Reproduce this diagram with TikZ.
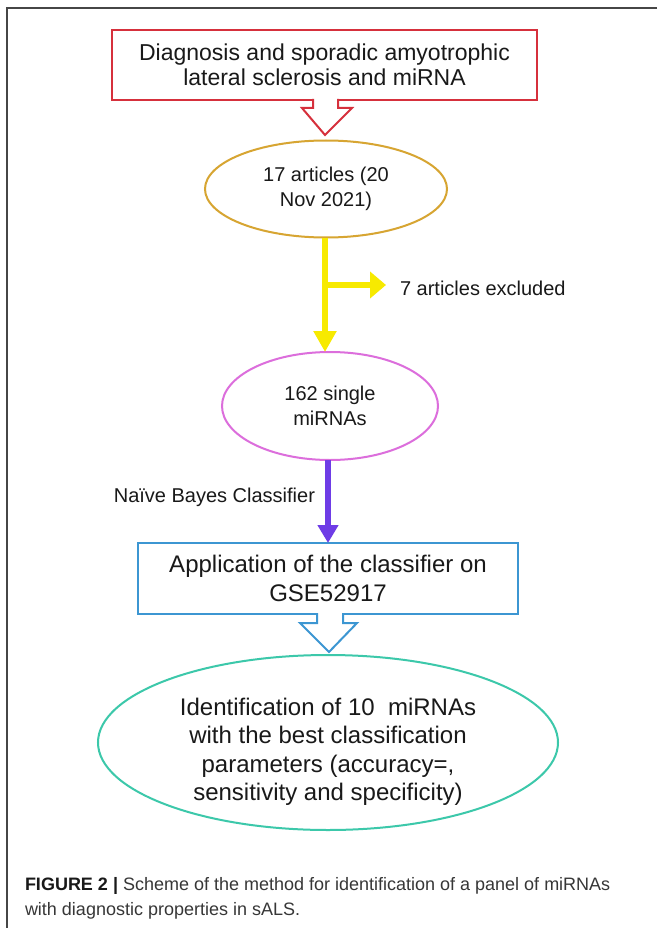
\documentclass[tikz,border=0pt]{standalone}
\usepackage{fontspec}
\setmainfont{Liberation Sans}
\usetikzlibrary{shapes.geometric,arrows.meta,calc}
\definecolor{framec}{RGB}{70,70,70}
\definecolor{redc}{RGB}{214,48,60}
\definecolor{goldc}{RGB}{215,165,50}
\definecolor{yelc}{RGB}{247,234,0}
\definecolor{orchc}{RGB}{220,110,220}
\definecolor{purpc}{RGB}{110,60,230}
\definecolor{bluec}{RGB}{60,150,210}
\definecolor{turqc}{RGB}{60,200,170}
\definecolor{txtc}{RGB}{25,25,25}
\definecolor{capc}{RGB}{55,55,55}
\begin{document}
\begin{tikzpicture}[x=1pt,y=-1pt,
  boxnode/.style={rectangle,draw,line width=2pt,fill=white,inner sep=0pt,outer sep=0pt,align=center,text=txtc},
  ellnode/.style={ellipse,draw,line width=2pt,fill=white,inner sep=0pt,outer sep=0pt,align=center,text=txtc},
  plain/.style={inner sep=0pt,outer sep=0pt,text=txtc},
  fnt20/.style={font=\fontsize{20}{25}\selectfont},
  fnt24/.style={font=\fontsize{24}{28.5}\selectfont},
  thickarrow/.style={line width=6pt}
]
\useasboundingbox (0,0) rectangle (657,928);
\fill[white] (0,0) rectangle (657,928);
\draw[framec,line width=1.4pt] (657,8) -- (7,8) -- (7,928);

% nodes
\node[boxnode,draw=redc,line width=2.4pt,minimum width=425pt,minimum height=70pt,
      font=\fontsize{23}{25}\selectfont] (red) at (324.5,65)
      {Diagnosis and sporadic amyotrophic\\lateral sclerosis and miRNA};
\node[ellnode,draw=goldc,minimum width=242pt,minimum height=97pt,fnt20] (e1) at (326,189)
      {17 articles (20\\Nov 2021)};
\node[ellnode,draw=orchc,minimum width=216pt,minimum height=108pt,fnt20] (e2) at (330,406)
      {162 single\\miRNAs};
\node[boxnode,draw=bluec,minimum width=380pt,minimum height=71pt,fnt24] (blue) at (328,578.5)
      {Application of the classifier on\\GSE52917};
\node[ellnode,draw=turqc,minimum width=460pt,minimum height=175pt] (e3) at (328,742.5) {};
\node[plain,align=center,fnt24] (e3t) at (328,752)
      {Identification of 10\ \ miRNAs\\with the best classification\\parameters (accuracy=,\\sensitivity and specificity)};

\node[plain,anchor=west,fnt20] (exc) at (400,288) {7 articles excluded};
\node[plain,anchor=east,fnt20] (nb) at (315,497) {Naïve Bayes Classifier};

% yellow connectors
\draw[yelc,thickarrow,-{Triangle[length=21pt,width=22pt]}] ($(e1.south)+(-1,0)$) coordinate (ys) -- (ys |- e2.north);
\coordinate (br) at (325,285);
\coordinate (brend) at (386,285);
\draw[yelc,thickarrow,-{Triangle[length=16pt,width=26pt]}] (br) -- (brend);

% purple connector
\draw[purpc,thickarrow,-{Triangle[length=18pt,width=20pt]}] ($(e2.south)+(-2,0)$) coordinate (ps) -- (ps |- blue.north);

% hollow red arrow
\begin{scope}[shift={(red.south)}]
  \fill[white] (-11.5,-2) rectangle (13.5,3);
  \draw[redc,line width=2pt,line join=miter]
    (-11.5,-1) -- (-11.5,8) -- (-22.5,8) -- (0.5,35) -- (27.5,8) -- (13.5,8) -- (13.5,-1);
\end{scope}

% hollow blue arrow
\begin{scope}[shift={(blue.south)}]
  \fill[white] (-11,-2) rectangle (15,3);
  \draw[bluec,line width=2pt,line join=miter]
    (-11,-1) -- (-11,9) -- (-28,9) -- (1,38) -- (29,9) -- (15,9) -- (15,-1);
\end{scope}

% caption
\node[plain,anchor=base west,text=capc,font=\fontsize{18}{25}\selectfont] (cap1) at (25,890)
  {\textcolor{txtc}{\textbf{FIGURE 2 |}} Scheme of the method for identification of a panel of miRNAs};
\node[plain,anchor=base west,text=capc,font=\fontsize{18}{25}\selectfont] (cap2) at (25,915)
  {with diagnostic properties in sALS.};
\end{tikzpicture}
\end{document}
